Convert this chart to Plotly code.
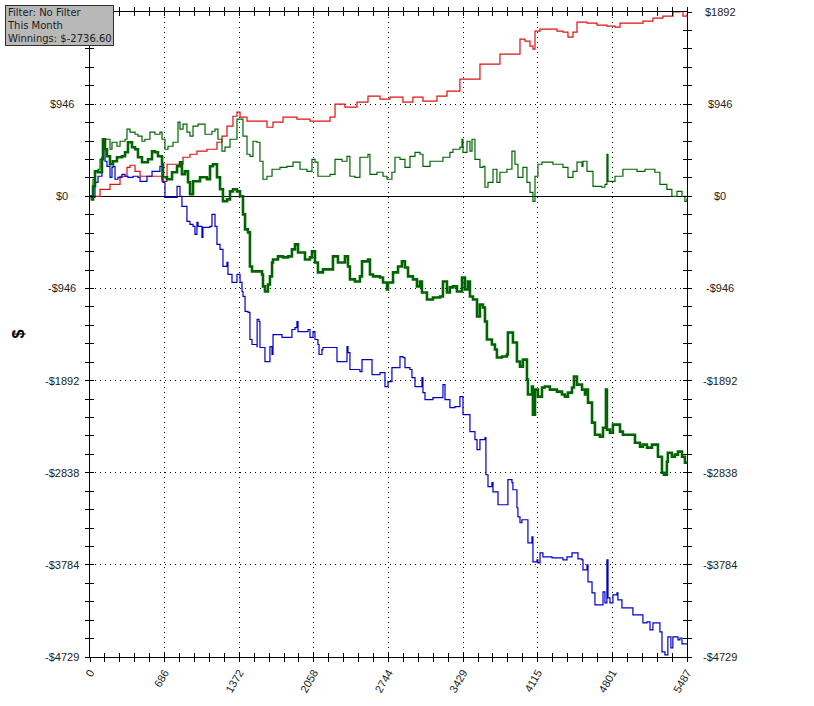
import plotly.graph_objects as go

# ---------------- data (trade number, cumulative $) ----------------
red_x = [0, 92, 184, 276, 340, 368, 414, 460, 551, 616, 662, 708, 800, 855, 919, 983, 1075, 1167, 1213, 1259,
         1314, 1351, 1379, 1443, 1535, 1627, 1682, 1774, 1902, 2022, 2206, 2252, 2343, 2454, 2555, 2665, 2757,
         2876, 2968, 3060, 3189, 3281, 3400, 3584, 3768, 3952, 3998, 4044, 4071, 4090, 4136, 4200, 4292, 4347,
         4393, 4439, 4476, 4568, 4660, 4751, 4825, 4871, 4963, 5082, 5174, 5266, 5358, 5422, 5450, 5487]
red_y = [0, 72, 123, 206, 298, 319, 257, 206, 206, 206, 154, 329, 329, 401, 432, 463, 483, 555, 617, 720,
         822, 864, 812, 771, 771, 709, 761, 812, 792, 771, 812, 946, 915, 966, 1028, 997, 1018,
         966, 1018, 977, 1028, 1079, 1203, 1357, 1460, 1614, 1593, 1542, 1511, 1696, 1717, 1717, 1696, 1686,
         1635, 1686, 1789, 1778, 1758, 1748, 1737, 1778, 1778, 1799, 1830, 1850, 1892, 1902, 1850, 1871]

thin_x = [0, 18, 28, 46, 74, 92, 119, 138, 184, 202, 248, 276, 322, 340, 368, 414, 441, 478, 505, 551, 597,
          643, 662, 689, 717, 763, 809, 827, 855, 891, 919, 947, 993, 1057, 1121, 1149, 1176, 1213, 1241, 1287,
          1351, 1379, 1406, 1443, 1470, 1498, 1535, 1562, 1590, 1627, 1673, 1746, 1810, 1866, 1930, 1994, 2040,
          2068, 2095, 2206, 2252, 2316, 2362, 2389, 2435, 2481, 2555, 2573, 2638, 2693, 2730, 2775, 2803, 2849,
          2895, 2941, 2987, 3033, 3060, 3125, 3189, 3244, 3308, 3336, 3400, 3419, 3428, 3465, 3492, 3511, 3538,
          3584, 3612, 3630, 3658, 3704, 3740, 3768, 3832, 3878, 3906, 3933, 3979, 4016, 4044, 4071, 4090, 4117,
          4154, 4255, 4347, 4393, 4439, 4476, 4522, 4531, 4568, 4623, 4705, 4733, 4751, 4761, 4825, 4898, 5027,
          5101, 5192, 5238, 5302, 5348, 5395, 5441, 5468, 5487]
thin_y = [0, -31, 175, 257, 278, 380, 514, 586, 483, 555, 514, 565, 586, 689, 658, 637, 617, 565, 586, 658, 637,
          658, 586, 483, 514, 555, 761, 689, 740, 658, 617, 720, 740, 637, 668, 689, 586, 463, 504, 586,
          792, 792, 617, 432, 411, 565, 555, 360, 175, 206, 278, 298, 308, 350, 278, 257, 380,
          350, 206, 226, 380, 360, 411, 206, 195, 401, 432, 226, 247, 206, 175, 247, 401, 380,
          298, 411, 452, 432, 308, 360, 360, 401, 452, 483, 504, 586, 452, 565, 463, 586, 380,
          298, 308, 93, 144, 278, 144, 247, 278, 463, 329, 195, 298, 144, 41, -51, 206, 329,
          350, 329, 298, 195, 257, 350, 308, 360, 257, 103, 93, 123, 432, 154, 206, 278, 257,
          278, 247, 123, 72, 0, 51, 0, -51, -21]

total_x = [0, 18, 28, 46, 74, 110, 119, 138, 156, 184, 211, 248, 294, 322, 349, 386, 414, 441, 478, 505, 533,
           570, 597, 625, 662, 671, 708, 754, 800, 827, 845, 873, 901, 919, 947, 1011, 1075, 1103, 1130, 1167,
           1195, 1222, 1259, 1287, 1314, 1351, 1379, 1406, 1425, 1452, 1470, 1489, 1535, 1581, 1590, 1608, 1636,
           1654, 1673, 1682, 1728, 1774, 1820, 1856, 1884, 1912, 1976, 2022, 2040, 2068, 2095, 2141, 2206, 2233,
           2279, 2343, 2371, 2389, 2435, 2481, 2500, 2555, 2573, 2601, 2665, 2693, 2730, 2739, 2785, 2831, 2867,
           2895, 2923, 2968, 3005, 3033, 3051, 3097, 3152, 3217, 3244, 3281, 3308, 3336, 3373, 3419, 3446, 3474,
           3492, 3520, 3557, 3584, 3612, 3630, 3648, 3694, 3722, 3740, 3786, 3832, 3841, 3878, 3887, 3924, 3952,
           3979, 4016, 4025, 4062, 4071, 4090, 4117, 4154, 4181, 4227, 4292, 4338, 4365, 4393, 4430, 4448, 4476,
           4522, 4549, 4568, 4577, 4614, 4641, 4687, 4715, 4742, 4751, 4779, 4806, 4843, 4871, 4898, 4981, 5009,
           5055, 5082, 5119, 5165, 5192, 5220, 5257, 5275, 5302, 5311, 5348, 5376, 5404, 5441, 5468, 5487]
total_y = [0, -31, 103, 257, 247, 380, 586, 483, 411, 329, 360, 401, 411, 452, 555, 504, 483, 401, 350, 350, 380,
           463, 452, 411, 329, 195, 175, 247, 308, 350, 226, 257, 144, 21, 154, 195, 175, 308, 329, 195,
           72, -51, -31, 51, 72, 51, 0, -185, -339, -370, -720, -771, -771, -802, -925, -977, -905,
           -822, -679, -648, -617, -627, -617, -545, -493, -576, -648, -627, -565, -679, -781, -750, -750, -617,
           -679, -617, -720, -853, -874, -822, -668, -648, -802, -822, -833, -884, -956, -884, -781, -720, -668,
           -730, -822, -853, -925, -874, -987, -1059, -1038, -1028, -874, -987, -935, -925, -977, -833, -956, -874,
           -1028, -1059, -1234, -1110, -1141, -1285, -1470, -1521, -1573, -1655, -1645, -1624, -1398, -1398, -1501, -1696, -1748,
           -1676, -1881, -2035, -1953, -2241, -1984, -2056, -1963, -1953, -1984, -2005, -2035, -2056, -2015, -1963, -1850, -1933,
           -1984, -2035, -1984, -2118, -2323, -2447, -2467, -2375, -1984, -2395, -2426, -2344, -2344, -2416, -2447, -2447, -2529,
           -2570, -2549, -2580, -2549, -2549, -2673, -2837, -2858, -2724, -2632, -2673, -2652, -2621, -2673, -2734, -2737]

blue_x = [0, 18, 46, 74, 110, 119, 138, 156, 165, 184, 202, 211, 230, 257, 294, 322, 349, 395, 441, 460, 505,
          524, 570, 625, 643, 662, 671, 689, 781, 800, 827, 845, 873, 891, 919, 947, 965, 983, 993, 1029, 1038,
          1103, 1121, 1149, 1167, 1195, 1222, 1259, 1268, 1305, 1351, 1379, 1397, 1406, 1425, 1452, 1470, 1489,
          1535, 1536, 1553, 1562, 1608, 1636, 1654, 1673, 1682, 1765, 1838, 1856, 1884, 1902, 1912, 2004, 2022,
          2050, 2068, 2095, 2105, 2132, 2141, 2252, 2270, 2325, 2362, 2371, 2389, 2481, 2500, 2573, 2592, 2638,
          2665, 2711, 2739, 2775, 2849, 2876, 2895, 2941, 2959, 2987, 3051, 3060, 3079, 3152, 3244, 3263, 3308,
          3354, 3400, 3419, 3428, 3474, 3492, 3538, 3557, 3584, 3630, 3639, 3658, 3694, 3704, 3740, 3750, 3832,
          3841, 3878, 3887, 3924, 3933, 3952, 3970, 4016, 4025, 4062, 4071, 4108, 4117, 4136, 4163, 4246, 4347,
          4384, 4430, 4476, 4485, 4522, 4531, 4568, 4577, 4614, 4641, 4705, 4715, 4733, 4751, 4761, 4779, 4806,
          4843, 4852, 4889, 4981, 4990, 5055, 5082, 5119, 5147, 5174, 5211, 5238, 5257, 5284, 5311, 5339, 5357,
          5404, 5422, 5441, 5487]
blue_y = [0, -10, 144, 206, 401, 483, 360, 308, 308, 195, 298, 308, 175, 195, 226, 206, 195, 206, 195, 154, 154,
          206, 257, 257, 308, 175, 144, -10, -10, 103, 0, -103, -103, -257, -288, -308, -391, -267, -308, -421, -319,
          -308, -185, -308, -493, -545, -720, -679, -802, -884, -802, -884, -977, -1028, -1182, -1192, -1470, -1521,
          -1542, -1264, -1285, -1552, -1696, -1696, -1542, -1624, -1419, -1449, -1449, -1367, -1347, -1285, -1388, -1367, -1449,
          -1388, -1470, -1521, -1624, -1573, -1552, -1552, -1696, -1696, -1542, -1604, -1778, -1799, -1676, -1676, -1830, -1830,
          -1809, -1953, -1902, -1758, -1645, -1655, -1758, -1778, -1861, -1953, -1861, -2015, -2087, -2066, -1933, -2087, -2169,
          -2159, -2056, -2056, -2241, -2241, -2416, -2498, -2601, -2498, -2477, -2858, -2981, -2940, -3033, -3033, -3166, -3166,
          -2909, -2940, -3012, -3197, -3290, -3351, -3320, -3320, -3557, -3495, -3752, -3732, -3762, -3660, -3701, -3711, -3732,
          -3701, -3660, -3660, -3721, -3732, -3834, -3783, -3958, -4071, -4194, -4194, -4061, -4174, -3732, -4122, -4174, -4091,
          -4071, -4143, -4225, -4225, -4297, -4297, -4379, -4369, -4451, -4379, -4379, -4472, -4677, -4708, -4523, -4636, -4523,
          -4554, -4534, -4595, -4595]

x_max = 5487
y_min, y_max = -4729, 1892
x_ticks = [0, 686, 1372, 2058, 2744, 3429, 4115, 4801, 5487]
y_ticks = [-4729, -3784, -2838, -1892, -946, 0, 946, 1892]
y_labels = ["-$4729", "-$3784", "-$2838", "-$1892", "-$946", "$0", "$946", "$1892"]
info_lines = ["Filter: No Filter", "This Month", "Winnings: $-2736.60"]

# ---------------- figure ----------------
W, H = 814, 706
L, R, T, B = 90, 127, 12, 49
pw, ph = W - L - R, H - T - B

fig = go.Figure()
fig.add_trace(go.Scatter(x=red_x, y=red_y, mode="lines", line=dict(color="#e01010", width=1.2, shape="hv"), hoverinfo="skip"))
fig.add_trace(go.Scatter(x=blue_x, y=blue_y, mode="lines", line=dict(color="#0000c8", width=1.2, shape="hv"), hoverinfo="skip"))
fig.add_trace(go.Scatter(x=thin_x, y=thin_y, mode="lines", line=dict(color="#006400", width=1.2, shape="hv"), hoverinfo="skip"))
fig.add_trace(go.Scatter(x=total_x, y=total_y, mode="lines", line=dict(color="#006400", width=2.6, shape="hv"), hoverinfo="skip"))
# dummy trace for the inside-tick overlay axes
fig.add_trace(go.Scatter(x=[None], y=[None], xaxis="x3", yaxis="y3", hoverinfo="skip"))

x_minor = [k * x_max / 40 for k in range(41)]
ystep = y_max / 10
y_minor = [k * ystep for k in range(-25, 11)]

tickfont = dict(family="Liberation Sans, Arial, sans-serif", size=11, color="#222222")

fig.update_layout(
    width=W, height=H, showlegend=False,
    margin=dict(l=L, r=R, t=T, b=B, pad=0, autoexpand=False),
    paper_bgcolor="white", plot_bgcolor="white",
    xaxis=dict(range=[0, x_max], tickmode="array", tickvals=x_ticks, ticktext=[str(v) for v in x_ticks],
               tickangle=-60, tickfont=tickfont, ticks="outside", ticklen=4, tickcolor="black", automargin=False,
               showline=True, linecolor="black", linewidth=1, mirror="ticks",
               showgrid=True, gridcolor="black", griddash="1px,4px", gridwidth=1, zeroline=False,
               minor=dict(tickmode="array", tickvals=x_minor, ticks="outside", ticklen=4, tickcolor="black", showgrid=False)),
    yaxis=dict(range=[y_min, y_max], tickmode="array", tickvals=y_ticks, showticklabels=False, automargin=False,
               ticks="outside", ticklen=4, tickcolor="black",
               showline=True, linecolor="black", linewidth=1, mirror="ticks",
               showgrid=True, gridcolor="black", griddash="1px,4px", gridwidth=1,
               zeroline=True, zerolinecolor="black", zerolinewidth=1,
               minor=dict(tickmode="array", tickvals=y_minor, ticks="outside", ticklen=4, tickcolor="black", showgrid=False)),
    xaxis3=dict(overlaying="x", range=[0, x_max], tickmode="array", tickvals=x_ticks, showticklabels=False,
                ticks="inside", ticklen=4, tickcolor="black", showline=False, mirror="ticks", automargin=False,
                showgrid=False, zeroline=False,
                minor=dict(tickmode="array", tickvals=x_minor, ticks="inside", ticklen=4, tickcolor="black", showgrid=False)),
    yaxis3=dict(overlaying="y", range=[y_min, y_max], tickmode="array", tickvals=y_ticks, showticklabels=False,
                ticks="inside", ticklen=4, tickcolor="black", showline=False, mirror="ticks", automargin=False,
                showgrid=False, zeroline=False,
                minor=dict(tickmode="array", tickvals=y_minor, ticks="inside", ticklen=4, tickcolor="black", showgrid=False)),
)

# centred tick labels on both sides (the left top label is hidden under the info box in the original)
for v, t in zip(y_ticks, y_labels):
    sides = (pw + 33,) if v == y_max else (-28, pw + 33)
    for xc in sides:
        fig.add_annotation(x=xc / pw, xref="paper", y=v, yref="y", text=t, showarrow=False,
                           xanchor="center", yanchor="middle", font=tickfont)

# axis title
fig.add_annotation(x=(18 - L) / pw, xref="paper", y=0.5, yref="paper", text="<b>$</b>", showarrow=False,
                   xanchor="center", yanchor="middle",
                   textangle=-90, font=dict(family="Liberation Sans, Arial", size=16, color="black"))

# info box
fig.add_annotation(x=(5 - L) / pw, xref="paper", y=1 + (T - 5) / ph, yref="paper",
                   text="<br>".join(info_lines), showarrow=False, align="left",
                   xanchor="left", yanchor="top", bgcolor="#b8b8b8", bordercolor="#303030", borderwidth=1,
                   borderpad=1, font=dict(family="DejaVu Sans, sans-serif", size=10, color="#202020"))

fig.write_html("out.html", config={"displayModeBar": False},
               post_script="document.body.style.margin='0px';document.body.style.overflow='hidden';")
